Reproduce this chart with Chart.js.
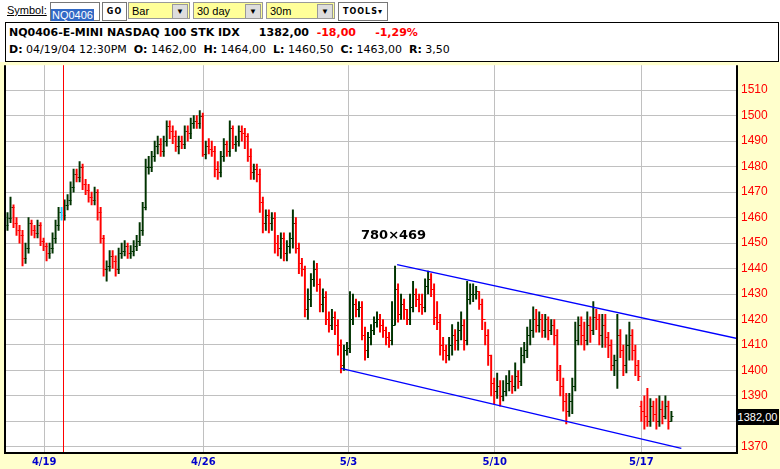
<!DOCTYPE html>
<html>
<head>
<meta charset="utf-8">
<script src="https://cdn.jsdelivr.net/npm/chart.js@4/dist/chart.umd.min.js"></script>
<style>
  body { margin: 0; width: 780px; height: 469px; background: #fff; font-family: "DejaVu Sans", Verdana, sans-serif; position: relative; overflow: hidden; }
  .abs { position: absolute; }
  .sym { left: 7px; top: 4px; font: 11px "Liberation Sans", Arial, sans-serif; text-decoration: underline; }
  .inp { left: 50px; top: 2px; width: 48px; height: 17px; border: 1px solid #777; background: #fff; }
  .inp span { background: #3169c6; color: #fff; font: 11px "Liberation Sans", Arial; padding: 0 1px; position: relative; top: 1px; }
  .btn { top: 2px; height: 17px; border: 1px solid #777; background: #fff; font: bold 8px "DejaVu Sans"; letter-spacing: 1px; text-align: center; line-height: 17px; }
  .sel { top: 2px; height: 17px; border: 1px solid #999; background: #ffff99; font: 11px "Liberation Sans", Arial; line-height: 17px; padding-left: 3px; box-sizing: border-box; }
  .sel i { position: absolute; right: 1px; top: 1px; width: 14px; height: 13px; background: #ddd; border: 1px solid #999; font-style: normal; font-size: 8px; text-align: center; line-height: 13px; }
  .top { left: 0; top: 0; width: 780px; height: 62px; background: #fff; }
  .hdr { left: 5px; top: 22px; width: 772px; height: 38px; border: 1px solid #000; background: #fff; }
  .l1 { left: 3px; top: 3px; font: bold 11px "DejaVu Sans"; white-space: pre; }
  .l2 { left: 3px; top: 20px; font: 11px "DejaVu Sans"; white-space: pre; }
  .red { color: #f00; }
  #wrap { left: 0; top: 53px; width: 780px; height: 416px; }
  .px { left: 736px; top: 409px; width: 43px; height: 16px; background: #000; color: #fff; font: 11px "Liberation Sans", Arial; line-height: 16px; text-align: center; }
  .wm { left: 361px; top: 227px; font: bold 13px "DejaVu Sans"; }
</style>
</head>
<body>
<div class="abs" id="wrap"><canvas id="chart" width="780" height="416"></canvas></div>
<div class="abs top"></div>
<div class="abs sym">Symbol:</div>
<div class="abs inp"><span>NQ0406</span></div>
<div class="abs btn" style="left:102px;width:23px">GO</div>
<div class="abs sel" style="left:128px;width:62px">Bar<i>▼</i></div>
<div class="abs sel" style="left:193px;width:70px">30 day<i>▼</i></div>
<div class="abs sel" style="left:266px;width:69px">30m<i>▼</i></div>
<div class="abs btn" style="left:338px;width:48px">TOOLS▾</div>
<div class="abs hdr">
  <div class="abs l1">NQ0406-E-MINI NASDAQ 100 STK IDX     1382,00  <span class="red">-18,00     -1,29%</span></div>
  <div class="abs l2"><b>D:</b> 04/19/04 12:30PM  <b>O:</b> 1462,00  <b>H:</b> 1464,00  <b>L:</b> 1460,50  <b>C:</b> 1463,00  <b>R:</b> 3,50</div>
</div>
<div class="abs px">1382,00</div>
<div class="abs wm">780×469</div>
<script>
const opens = [
  1457,1460,1464,1458,1455,1453,1444,1448,1458,1455, 1454,1457,1451,1449,1446,1448,1452,1457,1462,1461,
  1465,1467,1472,1477,1476,1480,1473,1471,1468,1467, 1470,1462,1452,1440,1441,1445,1443,1440,1446,1447,
  1449,1446,1447,1449,1451,1455,1464,1480,1480,1484, 1488,1489,1486,1490,1496,1494,1492,1488,1490,1489,
  1494,1493,1497,1498,1497,1500,1485,1488,1487,1486, 1479,1478,1484,1489,1486,1495,1489,1490,1494,1493,
  1492,1484,1478,1479,1477,1466,1458,1461,1458,1460, 1450,1448,1452,1446,1449,1452,1458,1448,1442,1440,
  1424,1428,1436,1440,1434,1426,1429,1420,1418,1421, 1418,1410,1402,1408,1409,1420,1426,1424,1425,1414,
  1408,1413,1416,1419,1420,1418,1416,1413,1412,1418, 1432,1422,1426,1424,1420,1425,1430,1428,1426,1425,
  1433,1436,1432,1421,1419,1410,1408,1406,1410,1414, 1412,1416,1418,1412,1428,1430,1430,1431,1426,1420,
  1414,1406,1395,1392,1394,1390,1392,1395,1396,1394, 1398,1396,1406,1408,1414,1416,1420,1418,1420,1416,
  1420,1416,1418,1414,1400,1394,1388,1384,1388,1394, 1412,1418,1414,1412,1418,1416,1421,1420,1414,1418,
  1413,1410,1402,1404,1414,1408,1402,1410,1414,1408, 1402,1386,1384,1382,1380,1386,1383,1380,1385,1382,
  1386,1380
];
const highs = [
  1462,1468,1465,1460,1457,1455,1450,1460,1459,1457, 1459,1458,1452,1450,1450,1454,1459,1464,1464,1467,
  1469,1474,1479,1479,1482,1481,1475,1473,1470,1472, 1471,1464,1453,1443,1447,1447,1445,1448,1450,1451,
  1450,1449,1451,1453,1458,1466,1483,1484,1486,1490, 1492,1491,1492,1498,1498,1496,1494,1492,1492,1496,
  1496,1499,1500,1500,1502,1501,1490,1491,1490,1488, 1482,1486,1491,1490,1498,1496,1492,1496,1496,1495,
  1493,1487,1481,1481,1479,1468,1463,1463,1462,1462, 1453,1454,1454,1451,1454,1463,1460,1450,1444,1441,
  1432,1438,1443,1442,1436,1432,1431,1423,1424,1423, 1420,1412,1410,1411,1431,1430,1428,1427,1427,1417,
  1415,1418,1421,1423,1422,1420,1417,1415,1427,1441, 1434,1430,1428,1424,1430,1435,1432,1430,1430,1436,
  1439,1438,1434,1427,1422,1413,1410,1413,1418,1416, 1419,1423,1420,1435,1434,1434,1433,1431,1428,1419,
  1416,1406,1397,1399,1396,1396,1398,1400,1398,1403, 1400,1409,1411,1417,1420,1425,1424,1423,1422,1422,
  1421,1420,1420,1416,1402,1397,1391,1391,1397,1419, 1421,1421,1419,1423,1421,1427,1424,1422,1422,1422,
  1415,1412,1406,1422,1416,1410,1414,1419,1416,1410, 1404,1388,1390,1393,1389,1388,1389,1390,1388,1390,
  1388,1384
];
const lows = [
  1455,1458,1456,1453,1450,1441,1442,1446,1453,1452, 1452,1449,1447,1443,1444,1446,1450,1455,1459,1459,
  1463,1465,1470,1474,1474,1471,1469,1466,1465,1465, 1459,1450,1437,1435,1439,1440,1437,1438,1444,1445,
  1444,1444,1445,1447,1449,1453,1463,1477,1478,1482, 1485,1484,1484,1488,1491,1489,1486,1485,1487,1487,
  1490,1491,1495,1495,1495,1484,1483,1485,1484,1476, 1475,1476,1482,1484,1484,1487,1486,1488,1490,1487,
  1482,1475,1475,1474,1462,1454,1455,1454,1455,1446, 1445,1444,1443,1443,1446,1448,1446,1438,1437,1421,
  1420,1425,1433,1431,1423,1423,1418,1415,1416,1414, 1406,1399,1400,1406,1407,1418,1421,1421,1412,1404,
  1405,1410,1414,1417,1415,1413,1410,1409,1410,1418, 1419,1420,1420,1418,1418,1423,1425,1423,1422,1423,
  1430,1429,1418,1416,1406,1404,1403,1404,1406,1408, 1408,1412,1408,1410,1426,1427,1428,1424,1416,1410,
  1402,1390,1387,1389,1386,1388,1390,1392,1391,1392, 1393,1394,1403,1405,1410,1413,1415,1415,1413,1413,
  1412,1414,1410,1396,1390,1384,1379,1382,1383,1392, 1410,1410,1408,1410,1411,1414,1416,1410,1409,1409,
  1405,1400,1398,1393,1405,1398,1399,1404,1404,1398, 1396,1380,1377,1378,1378,1380,1377,1378,1379,1381,
  1377,1380
];
const closes = [
  1460,1464,1458,1455,1453,1444,1448,1458,1455,1454, 1457,1451,1449,1446,1448,1452,1457,1462,1461,1465,
  1467,1472,1477,1476,1480,1473,1471,1468,1467,1470, 1462,1452,1440,1441,1445,1443,1440,1446,1447,1449,
  1446,1447,1449,1451,1455,1464,1480,1480,1484,1488, 1489,1486,1490,1496,1494,1492,1488,1490,1489,1494,
  1493,1497,1498,1497,1500,1485,1488,1487,1486,1479, 1478,1484,1489,1486,1495,1489,1490,1494,1493,1492,
  1484,1478,1479,1477,1466,1458,1461,1458,1460,1450, 1448,1452,1446,1449,1452,1458,1448,1442,1440,1424,
  1428,1436,1440,1434,1426,1429,1420,1418,1421,1418, 1410,1402,1408,1409,1420,1426,1424,1425,1414,1408,
  1413,1416,1419,1420,1418,1416,1413,1412,1418,1432, 1422,1426,1424,1420,1425,1430,1428,1426,1425,1433,
  1436,1432,1421,1419,1410,1408,1406,1410,1414,1412, 1416,1418,1412,1428,1430,1430,1431,1426,1420,1414,
  1406,1395,1392,1394,1390,1392,1395,1396,1394,1398, 1396,1406,1408,1414,1416,1420,1418,1420,1416,1420,
  1416,1418,1414,1400,1394,1388,1384,1388,1394,1412, 1418,1414,1412,1418,1416,1421,1420,1414,1418,1413,
  1410,1402,1404,1414,1408,1402,1410,1414,1408,1402, 1398,1384,1382,1380,1386,1383,1380,1385,1382,1386,
  1380,1382
];
const cursorBar = 18;
const dateTicks = [12.2, 65.2, 113.5, 162.2, 211];
const dateLabels = ['4/19', '4/26', '5/3', '5/10', '5/17'];
const upperChannel = [{ x: 129.7, y: 1441.5 }, { x: 242.7, y: 1412.6 }];
const lowerChannel = [{ x: 111, y: 1400.8 }, { x: 224.3, y: 1369.4 }];

const UP = '#003300', DOWN = '#ff0000', CURSOR = '#33ccff';
const barColor = (i) => i === cursorBar ? CURSOR : (closes[i] >= opens[i] ? UP : DOWN);

// yellow frame + cursor line + open/close ticks
const ohlcPlugin = {
  id: 'ohlc',
  beforeDraw(c) {
    const ctx = c.ctx, a = c.chartArea;
    ctx.save();
    ctx.fillStyle = '#ffffcc';
    ctx.fillRect(0, 0, c.width, c.height);
    ctx.fillStyle = '#fff';
    ctx.fillRect(a.left, a.top, a.right - a.left, a.bottom - a.top);
    ctx.restore();
  },
  afterDatasetsDraw(c) {
    const ctx = c.ctx, a = c.chartArea, xs = c.scales.x, ys = c.scales.y;
    ctx.save();
    ctx.lineWidth = 1;
    for (let i = 0; i < closes.length; i++) {
      const x = Math.round(xs.getPixelForValue(i)) + 0.5;
      ctx.strokeStyle = barColor(i);
      ctx.beginPath();
      const yo = Math.round(ys.getPixelForValue(opens[i])) + 0.5;
      const yc = Math.round(ys.getPixelForValue(closes[i])) + 0.5;
      ctx.moveTo(x - 2, yo); ctx.lineTo(x, yo);
      ctx.moveTo(x, yc); ctx.lineTo(x + 2, yc);
      ctx.stroke();
    }
    const cx = Math.round(xs.getPixelForValue(cursorBar + 0.6)) + 0.5;
    ctx.strokeStyle = '#ff0000';
    ctx.beginPath(); ctx.moveTo(cx, a.top); ctx.lineTo(cx, a.bottom); ctx.stroke();
    ctx.strokeStyle = '#000'; ctx.lineWidth = 2;
    ctx.beginPath();
    ctx.moveTo(a.left - 1, a.top); ctx.lineTo(a.left - 1, a.bottom + 1);
    ctx.lineTo(a.right + 1, a.bottom + 1); ctx.lineTo(a.right + 1, a.top);
    ctx.stroke();
    ctx.restore();
  }
};

new Chart(document.getElementById('chart'), {
  data: {
    datasets: [
      {
        type: 'bar',
        data: closes.map((_, i) => ({ x: i, y: [lows[i], highs[i]] })),
        backgroundColor: closes.map((_, i) => barColor(i)),
        barThickness: 1.3,
        order: 2
      },
      { type: 'line', data: upperChannel, borderColor: '#0000ff', borderWidth: 1.3, pointRadius: 0, order: 1 },
      { type: 'line', data: lowerChannel, borderColor: '#0000ff', borderWidth: 1.3, pointRadius: 0, order: 1 }
    ]
  },
  options: {
    animation: false,
    responsive: false,
    layout: { padding: { left: 6, top: 0, right: 0, bottom: 0 } },
    plugins: { legend: { display: false }, tooltip: { enabled: false } },
    scales: {
      x: {
        type: 'linear', min: -0.5, max: 242.5, offset: false,
        afterBuildTicks: (s) => { s.ticks = dateTicks.map(v => ({ value: v })); },
        afterFit: (s) => { s.height = 17; },
        grid: { color: '#c0c0c0', lineWidth: 1, drawTicks: false, offset: false },
        border: { display: false },
        ticks: {
          autoSkip: false, maxRotation: 0, padding: 4,
          color: '#0000cc', font: { family: 'DejaVu Sans', size: 10, weight: 'bold' },
          callback: (v) => dateLabels[dateTicks.indexOf(v)]
        }
      },
      y: {
        position: 'right', min: 1368, max: 1519.8,
        afterBuildTicks: (s) => {
          s.ticks = [];
          for (let v = 1370; v <= 1510; v += 10) s.ticks.push({ value: v });
        },
        afterFit: (s) => { s.width = 44; },
        grid: { color: '#c0c0c0', lineWidth: 1, drawTicks: false },
        border: { display: false },
        ticks: { color: '#ff0000', padding: 5, font: { family: 'Liberation Sans', size: 12 }, callback: (v) => String(v) }
      }
    }
  },
  plugins: [ohlcPlugin]
});
</script>
</body>
</html>
